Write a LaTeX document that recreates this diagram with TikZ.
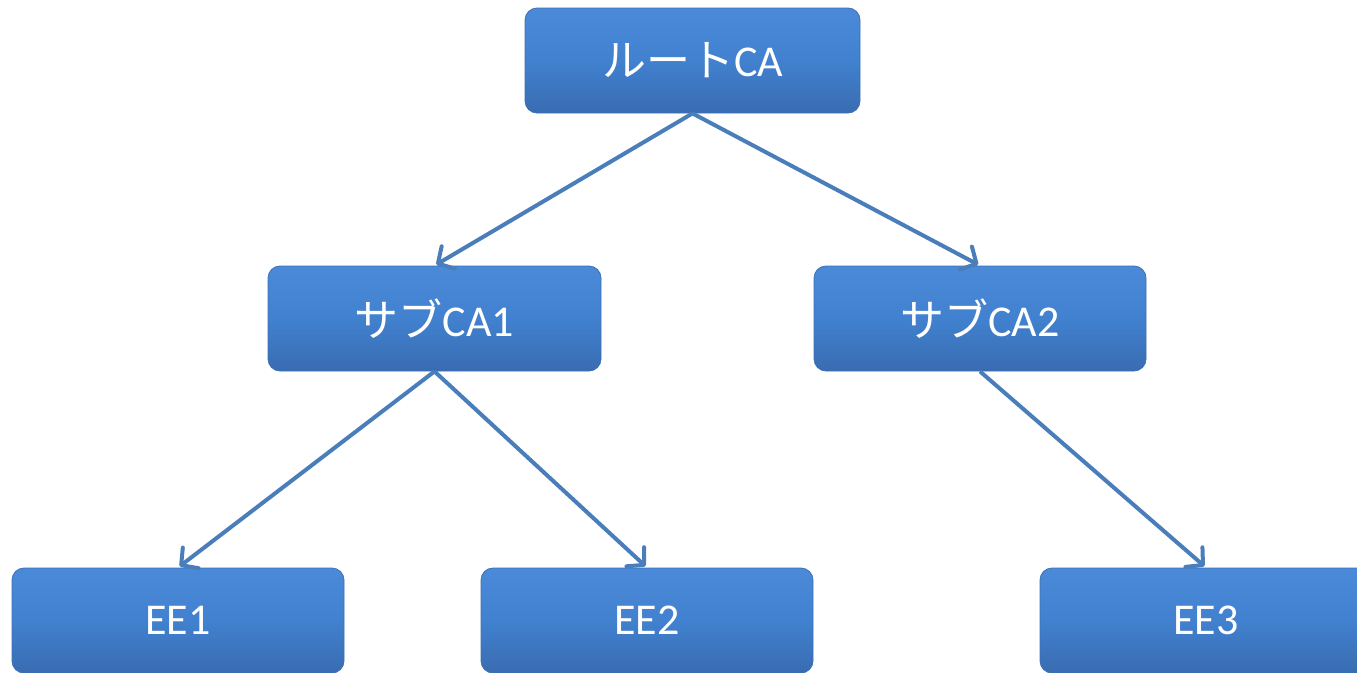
\documentclass[tikz,border=0pt]{standalone}
\usepackage{fontspec}
\setmainfont{Carlito}
\newfontfamily\jp{Noto Sans CJK JP}
\usetikzlibrary{arrows.meta}
\definecolor{boxtop}{HTML}{4A8AD8}
\definecolor{boxmid}{HTML}{4181CF}
\definecolor{boxbot}{HTML}{396CB1}
\definecolor{boxedge}{HTML}{3E70B2}
\definecolor{linecol}{HTML}{4A7EBB}
\begin{document}
\begin{tikzpicture}[x=1pt,y=-1pt,
  box/.style={rectangle, rounded corners=12pt, minimum width=332pt, minimum height=105pt,
    top color=boxtop, bottom color=boxbot, middle color=boxmid, draw=boxedge, line width=0.8pt,
    text=white, font=\fontsize{44}{48}\selectfont, inner sep=0pt},
  conn/.style={draw=linecol, line width=4pt, shorten >=2pt,
    -{Straight Barb[length=12pt,width=26pt,line cap=round,line join=round]}}]
\useasboundingbox (0,0) rectangle (1357,672);
\clip (0,0) rectangle (1357,672);
\node[box, minimum width=335pt] (root) at (692.5,60.5) {{\jp ルート}CA};
\node[box, minimum width=333pt] (sub1) at (434.5,318.5) {{\jp サブ}CA1};
\node[box] (sub2) at (980,318.5) {{\jp サブ}CA2};
\node[box] (ee1) at (178,620.5) {EE1};
\node[box] (ee2) at (647,620.5) {EE2};
\node[box] (ee3) at (1206,620.5) {EE3};
\draw[conn] (root.south) -- (sub1.north);
\draw[conn] (root.south) -- (sub2.north);
\draw[conn] (sub1.south) -- (ee1.north);
\draw[conn] (sub1.south) -- (ee2.north);
\draw[conn] (sub2.south) -- (ee3.north);
\end{tikzpicture}
\end{document}
